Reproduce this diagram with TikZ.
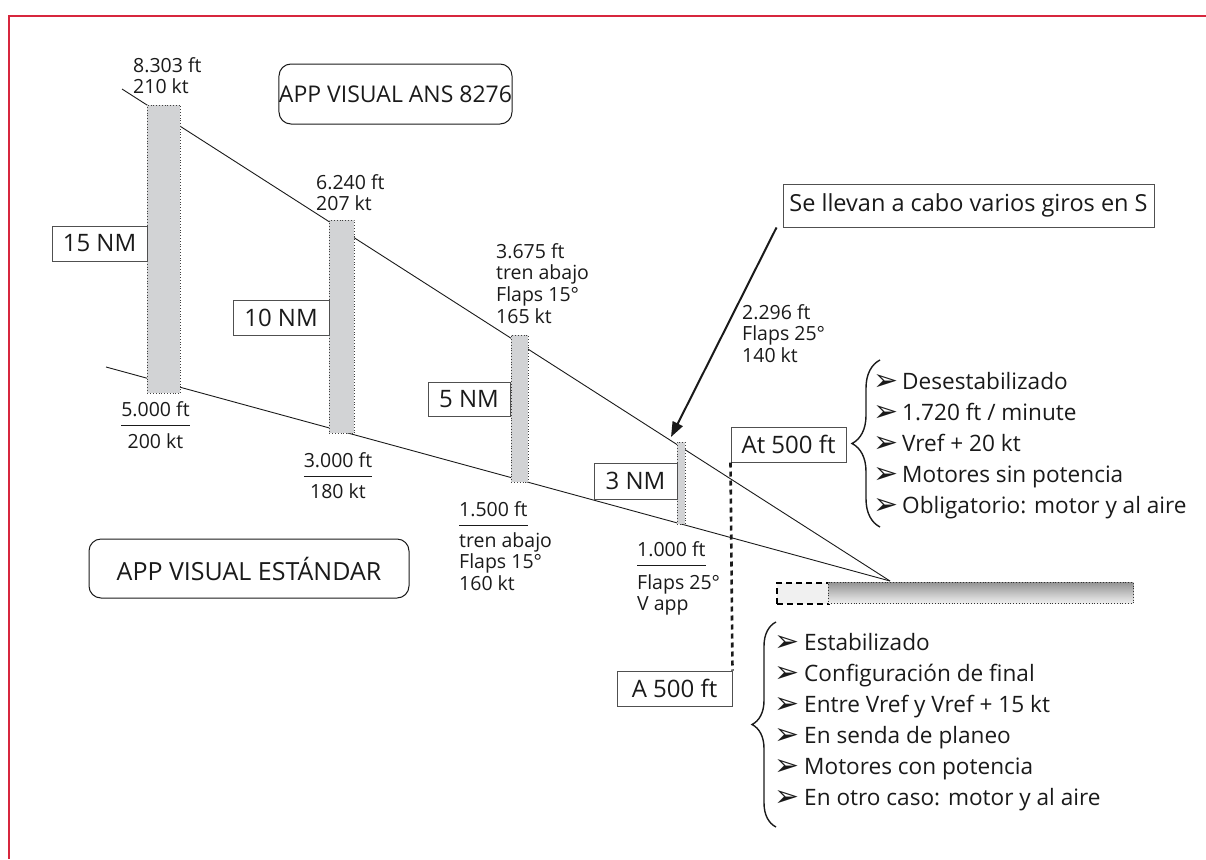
\documentclass[tikz,border=0pt]{standalone}
\usepackage{fontspec}
\setmainfont{Open Sans}
\newfontfamily\dejavu{DejaVu Sans}
\usetikzlibrary{arrows.meta,decorations.pathreplacing}
\definecolor{framered}{HTML}{D7263D}
\definecolor{barfill}{HTML}{D2D3D5}
\definecolor{boxline}{HTML}{505050}
\definecolor{ink}{HTML}{1A1A1A}
\newcommand\ulrule[2]{\sbox0{#2}\rlap{\rule[-#1]{\wd0}{0.9pt}}\usebox0}
\newcommand\blt[1]{\makebox[#1][l]{\raisebox{-1pt}{\dejavu\fontsize{30}{30}\selectfont ➢}}}
\begin{document}
\begin{tikzpicture}[x=1pt,y=-1pt,
  every node/.style={text=ink},
  small/.style={inner sep=0pt, font=\fontsize{19.5}{21.7}\selectfont},
  lbl/.style={draw=boxline, line width=1pt, inner sep=0pt, font=\fontsize{24}{28}\selectfont},
  rbox/.style={draw=ink, line width=1pt, rounded corners=12pt, inner sep=0pt},
  bar/.style={fill=barfill, draw=black!75, dotted, line width=0.8pt, inner sep=0pt, anchor=north west},
  glide/.style={draw=ink, line width=0.9pt},
  listnode/.style={inner sep=0pt, anchor=base west, font=\fontsize{22.6}{31}\selectfont},
  bracestyle/.style={draw=ink, line width=1.4pt, decorate},
  vdash/.style={draw=ink, line width=2.6pt, dash pattern=on 5pt off 4pt},
  callout/.style={draw=ink, line width=2pt, -{Triangle[length=15pt,width=11pt]}}
]
\useasboundingbox (0,0) rectangle (1206,859);
% frame
\draw[framered, line width=2pt] (1206,16) -- (9,16) -- (9,859);

% glide paths
\coordinate (up0) at (122,89);
\coordinate (lo0) at (106,367);
\coordinate (td) at (890,581);
\draw[glide] (up0) -- (td);
\draw[glide] (lo0) -- (td);

% bars
\node[bar, minimum width=33pt, minimum height=288pt] (b1) at (147,105) {};
\node[bar, minimum width=25pt, minimum height=213pt] (b2) at (329,220) {};
\node[bar, minimum width=17pt, minimum height=147pt] (b3) at (511,335) {};
\node[bar, minimum width=8pt, minimum height=82pt] (b4) at (677,442) {};

% distance labels
\node[lbl, minimum width=95pt, minimum height=35pt] (nm15) at (99.5,243.5) {15 NM};
\node[lbl, minimum width=96pt, minimum height=35pt] (nm10) at (281,317.5) {10 NM};
\node[lbl, minimum width=82pt, minimum height=34pt] (nm5) at (469,399) {5 NM};
\node[lbl, minimum width=83pt, minimum height=36pt] (nm3) at (635.5,481) {3 NM};
\node[lbl, minimum width=115pt, minimum height=35pt] (at500) at (788.5,444.5) {At 500 ft};
\node[lbl, minimum width=115pt, minimum height=35pt] (a500) at (674.5,688.5) {A 500 ft};
\node[lbl, minimum width=371pt, minimum height=43pt, font=\fontsize{23.5}{28}\selectfont] (sgiro) at (968.5,205.5) {Se llevan a cabo varios giros en S};

% titles
\node[rbox, minimum width=233pt, minimum height=60pt, font=\fontsize{23}{28}\selectfont] (tans) at (395.5,94) {APP VISUAL ANS 8276};
\node[rbox, minimum width=320pt, minimum height=59pt, font=\fontsize{25}{28}\selectfont] (tstd) at (249,568.5) {APP VISUAL ESTÁNDAR};

% upper values
\node[small, anchor=base west] (v1) at (133,72) {\begin{tabular}[t]{@{}l@{}}8.303 ft\\210 kt\end{tabular}};
\node[small, anchor=base west] (v2) at (316,189) {\begin{tabular}[t]{@{}l@{}}6.240 ft\\207 kt\end{tabular}};
\node[small, anchor=base west] (v3) at (496,258) {\begin{tabular}[t]{@{}l@{}}3.675 ft\\tren abajo\\Flaps 15°\\165 kt\end{tabular}};
\node[small, anchor=base west] (v4) at (742,319) {\begin{tabular}[t]{@{}l@{}}2.296 ft\\Flaps 25°\\140 kt\end{tabular}};

% lower values
\node[small, anchor=base] (w1) at (155.5,416) {\begin{tabular}[t]{@{}c@{}}\ulrule{9.5pt}{5.000 ft}\\[10.5pt]200 kt\end{tabular}};
\node[small, anchor=base] (w2) at (338,467) {\begin{tabular}[t]{@{}c@{}}\ulrule{9.5pt}{3.000 ft}\\[9.5pt]180 kt\end{tabular}};
\node[small, anchor=base west] (w3) at (459,516) {\begin{tabular}[t]{@{}l@{}}\ulrule{9.5pt}{1.500 ft}\\[9.3pt]tren abajo\\Flaps 15°\\160 kt\end{tabular}};
\node[small, anchor=base west] (w4) at (637,556) {\begin{tabular}[t]{@{}l@{}}\ulrule{9.5pt}{1.000 ft}\\[11.3pt]Flaps 25°\\V app\end{tabular}};

% callout arrow
\draw[callout] ([xshift=-6pt]sgiro.south west) -- ([xshift=-6pt,yshift=5pt]b4.north west);

% 500 ft link
\draw[vdash] (at500.south west) -- (a500.north east);

% runway
\node[draw=black, line width=2.4pt, dash pattern=on 6pt off 4pt, fill=black!6, inner sep=0pt,
      minimum width=52pt, minimum height=21pt, anchor=north west] (thr) at (776,582) {};
\node[top color=black!42, bottom color=black!6, draw=black!80, dotted, line width=0.8pt, inner sep=0pt,
      minimum width=305pt, minimum height=21pt, anchor=north west] (rw) at (828,582) {};

% braces
\coordinate (br1a) at (880,527);
\coordinate (br1b) at (880,360);
\draw[bracestyle, decoration={brace, amplitude=28pt}] (br1a) -- (br1b);
\coordinate (br2a) at (776,827);
\coordinate (br2b) at (776,622);
\draw[bracestyle, decoration={brace, amplitude=24pt}] (br2a) -- (br2b);

% lists
\node[listnode] (list1) at (873,389) {\begin{tabular}[t]{@{}l@{}}
\blt{29pt}Desestabilizado\\
\blt{29pt}1.720 ft / minute\\
\blt{29pt}Vref + 20 kt\\
\blt{29pt}Motores sin potencia\\
\blt{29pt}Obligatorio: motor y al aire
\end{tabular}};
\node[listnode] (list2) at (774,650) {\begin{tabular}[t]{@{}l@{}}
\blt{30pt}Estabilizado\\
\blt{30pt}Configuración de final\\
\blt{30pt}Entre Vref y Vref + 15 kt\\
\blt{30pt}En senda de planeo\\
\blt{30pt}Motores con potencia\\
\blt{30pt}En otro caso: motor y al aire
\end{tabular}};
\end{tikzpicture}
\end{document}
